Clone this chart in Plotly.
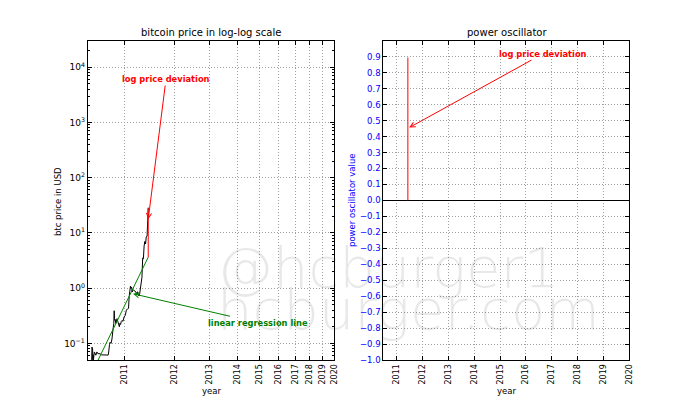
import pandas as pd
import numpy as np
import plotly.graph_objects as go

# ---------------- data ----------------
genesis = "2009-01-03"
price_dates = [
    "2010-07-17", "2010-07-18", "2010-07-19", "2010-07-20", "2010-07-21", "2010-07-22",
    "2010-07-23", "2010-07-25", "2010-07-27", "2010-07-29", "2010-07-31", "2010-08-05",
    "2010-08-10", "2010-08-15", "2010-08-20", "2010-08-25", "2010-09-01", "2010-09-10",
    "2010-09-20", "2010-10-01", "2010-10-05", "2010-10-07", "2010-10-09", "2010-10-12",
    "2010-10-15", "2010-10-20", "2010-10-25", "2010-10-28", "2010-11-01", "2010-11-04",
    "2010-11-06", "2010-11-07", "2010-11-08", "2010-11-10", "2010-11-12", "2010-11-15",
    "2010-11-18", "2010-11-22", "2010-11-26", "2010-12-01", "2010-12-05", "2010-12-08",
    "2010-12-12", "2010-12-16", "2010-12-20", "2010-12-26", "2011-01-01", "2011-01-08",
    "2011-01-15", "2011-01-22", "2011-01-28", "2011-02-01", "2011-02-05", "2011-02-09",
    "2011-02-12", "2011-02-16", "2011-02-20", "2011-02-24", "2011-03-01", "2011-03-06",
    "2011-03-11", "2011-03-16", "2011-03-21", "2011-03-26", "2011-04-01", "2011-04-05",
    "2011-04-10", "2011-04-15", "2011-04-20", "2011-04-25", "2011-04-30", "2011-05-05",
    "2011-05-10", "2011-05-15", "2011-05-20", "2011-05-25", "2011-05-31", "2011-06-02",
    "2011-06-04", "2011-06-06", "2011-06-07", "2011-06-08",
]
prices = [
    0.0495, 0.0858, 0.0808, 0.0747, 0.0792, 0.0505,
    0.0626, 0.0505, 0.0600, 0.0699, 0.0678, 0.0610,
    0.0700, 0.0650, 0.0660, 0.0650, 0.0620, 0.0620,
    0.0620, 0.0619, 0.0614, 0.0667, 0.0950, 0.0950,
    0.1050, 0.1000, 0.1200, 0.1700, 0.1950, 0.2300,
    0.3900, 0.3500, 0.2800, 0.2600, 0.2700, 0.2300,
    0.2600, 0.2800, 0.2500, 0.2100, 0.2000, 0.2300,
    0.2200, 0.2500, 0.2600, 0.2500, 0.3000, 0.3200,
    0.4000, 0.4200, 0.4300, 0.7000, 0.9000, 1.0900,
    1.0000, 1.0400, 0.8500, 0.9300, 0.9200, 0.9000,
    0.8700, 0.8500, 0.7500, 0.8600, 0.7700, 0.7200,
    0.8000, 0.9800, 1.2000, 1.5700, 3.5000, 3.4000,
    5.8000, 7.0000, 6.3000, 8.5000, 8.7000, 10.600,
    18.500, 18.500, 24.000, 28.500,
]
reg_dates = ["2010-07-17", "2011-06-08"]
reg_prices = [0.029, 3.63]

years = [2011, 2012, 2013, 2014, 2015, 2016, 2017, 2018, 2019, 2020]
y_log_ticks = [0.1, 1, 10, 100, 1000, 10000]
y_log_text = ["10<sup>−1</sup>", "10<sup>0</sup>", "10<sup>1</sup>",
              "10<sup>2</sup>", "10<sup>3</sup>", "10<sup>4</sup>"]
osc_ticks = [round(-1.0 + 0.1 * i, 1) for i in range(20)]

# ---------------- derived ----------------
g0 = pd.Timestamp(genesis)
days = [(pd.Timestamp(d) - g0).days for d in price_dates]
reg_days = [(pd.Timestamp(d) - g0).days for d in reg_dates]
year_days = [(pd.Timestamp(f"{y}-01-01") - g0).days for y in years]
year_dates = [f"{y}-01-01" for y in years]
last_date = price_dates[-1]
last_day = days[-1]
deviation = float(np.log10(prices[-1]) - np.log10(reg_prices[-1]))

BLUE = "#0000ff"
RED = "#ff0000"
GREEN = "#008000"
FONT = "DejaVu Sans"
GRID = "#a0a0a0"

fig = go.Figure()

fig.add_trace(go.Scatter(x=days, y=prices, mode="lines",
                         line=dict(color="black", width=1), xaxis="x", yaxis="y",
                         showlegend=False, hoverinfo="skip"))
fig.add_trace(go.Scatter(x=reg_days, y=reg_prices, mode="lines",
                         line=dict(color=GREEN, width=1), xaxis="x", yaxis="y",
                         showlegend=False, hoverinfo="skip"))
fig.add_trace(go.Scatter(x=[last_day, last_day], y=[reg_prices[-1], prices[-1]], mode="lines",
                         line=dict(color=RED, width=1), xaxis="x", yaxis="y",
                         showlegend=False, hoverinfo="skip"))
fig.add_trace(go.Scatter(x=[last_date, last_date], y=[0, deviation], mode="lines",
                         line=dict(color=RED, width=1), xaxis="x2", yaxis="y2",
                         showlegend=False, hoverinfo="skip"))

common = dict(showline=True, linecolor="black", linewidth=1, mirror="ticks",
              ticks="inside", ticklen=4, tickcolor="black", tickwidth=1,
              showgrid=True, gridcolor=GRID, griddash="1px,2px", gridwidth=1,
              zeroline=False, automargin=False,
              tickfont=dict(family=FONT, size=8, color="black"))

minor_vals = [m * 10.0 ** e for e in range(-2, 5) for m in range(2, 10)]

fig.update_layout(
    width=700, height=400,
    margin=dict(l=0, r=0, t=0, b=0),
    paper_bgcolor="white", plot_bgcolor="white",
    font=dict(family=FONT, size=8, color="black"),
    xaxis=dict(common, domain=[87.7 / 700, 334.3 / 700], type="log",
               range=[np.log10(542), np.log10(year_days[-1])],
               tickmode="array", tickvals=year_days, ticktext=[str(y) for y in years],
               tickangle=-90, anchor="y"),
    yaxis=dict(common, domain=[0.1, 0.898], type="log",
               range=[np.log10(0.05), np.log10(30000)],
               tickmode="array", tickvals=y_log_ticks, ticktext=y_log_text,
               tickfont=dict(family=FONT, size=9, color="black"),
               minor=dict(tickvals=minor_vals, ticks="inside", ticklen=2,
                          tickcolor="black", showgrid=False),
               anchor="x"),
    xaxis2=dict(common, domain=[383.3 / 700, 629.3 / 700], type="date",
                range=["2010-06-26", "2020-01-01"],
                tickmode="array", tickvals=year_dates, ticktext=[str(y) for y in years],
                tickangle=-90, anchor="y2"),
    yaxis2=dict(common, domain=[0.1, 0.898], range=[-1.0, 1.0],
                tickmode="array", tickvals=osc_ticks, tickformat=".1f",
                tickfont=dict(family=FONT, size=8.5, color=BLUE),
                zeroline=True, zerolinecolor="black", zerolinewidth=1.2,
                anchor="x2"),
)

ann = []
def txt(x, y, s, size=8.5, color="black", angle=0):
    ann.append(dict(x=x / 700, y=1 - y / 400, xref="paper", yref="paper", text=s,
                    showarrow=False, textangle=angle, xanchor="center", yanchor="middle",
                    font=dict(family=FONT, size=size, color=color)))

txt(210.7, 32.5, "bitcoin price in log-log scale", size=10)
txt(507, 32.5, "power oscillator", size=10)
txt(211, 391, "year")
txt(506, 391, "year")
txt(58, 201, "btc price in USD", angle=-90)
txt(352, 200, "power oscillator value", color=BLUE, angle=-90)

# arrows
ann.append(dict(x=np.log10(last_day), y=np.log10(17.6), xref="x", yref="y",
                ax=17.8, ay=-140.3, text="<b>log price deviation</b>",
                showarrow=True, arrowhead=5, arrowsize=1, arrowwidth=1, arrowcolor=RED,
                font=dict(family=FONT, size=8.3, color=RED), standoff=0))
ann.append(dict(x=np.log10(783), y=np.log10(0.79), xref="x", yref="y",
                ax=125, ay=29, text="<b>linear regression line</b>",
                showarrow=True, arrowhead=5, arrowsize=1, arrowwidth=1, arrowcolor=GREEN,
                font=dict(family=FONT, size=8.3, color=GREEN), standoff=0))
ann.append(dict(x="2011-06-27", y=0.456, xref="x2", yref="y2",
                ax=134, ay=-74, text="<b>log price deviation</b>",
                showarrow=True, arrowhead=5, arrowsize=1, arrowwidth=1, arrowcolor=RED,
                font=dict(family=FONT, size=8.3, color=RED), standoff=0))

# watermark
for s, yc in [("@hcburger1", 267.5), ("hcburger.com", 309.5)]:
    ann.append(dict(x=215 / 700, y=1 - yc / 400, xref="paper", yref="paper", text=s,
                    showarrow=False, xanchor="left", yanchor="middle",
                    font=dict(family="DejaVu Sans", size=56, weight=200,
                              color="rgba(0,0,0,0.09)")))

fig.update_layout(annotations=ann)
fig.write_html("out.html")
